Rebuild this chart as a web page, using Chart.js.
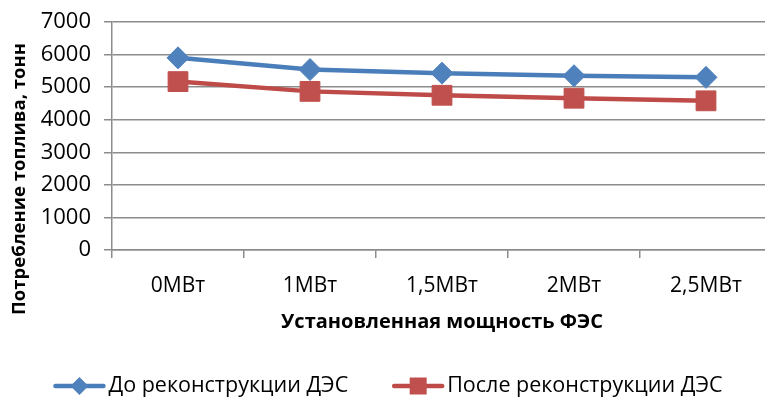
<!DOCTYPE html>
<html>
<head>
<meta charset="utf-8">
<script src="https://cdn.jsdelivr.net/npm/chart.js@4.4.1/dist/chart.umd.min.js"></script>
<style>
    html, body { margin: 0; padding: 0; background: #fff; overflow: hidden; }
    #wrap { width: 772px; height: 398px; }
</style>
</head>
<body>
<div id="wrap"><canvas id="fuelChart" width="772" height="398"></canvas></div>
<script>
const categories = ['0МВт', '1МВт', '1,5МВт', '2МВт', '2,5МВт'];
const beforeValues = [5900, 5540, 5430, 5350, 5300];
const afterValues = [5170, 4870, 4750, 4660, 4580];
const seriesNames = ['До реконструкции ДЭС', 'После реконструкции ДЭС'];

const BLUE = '#4a7ebb';
const RED = '#be4b48';
const GRID = '#8c8c8c';
const FONT = '"Open Sans", "DejaVu Sans", sans-serif';

// rotated y axis title, centred lower than the axis itself
const yTitlePlugin = {
    id: 'yTitle',
    afterDraw(chart) {
        const ctx = chart.ctx;
        ctx.save();
        ctx.translate(20, 179);
        ctx.rotate(-Math.PI / 2);
        ctx.font = 'bold 18.5px ' + FONT;
        ctx.fillStyle = '#000';
        ctx.textAlign = 'center';
        ctx.textBaseline = 'middle';
        ctx.fillText('Потребление топлива, тонн', 0, 0);
        ctx.restore();
    }
};

// bottom legend: line with marker, then the series name
const legendPlugin = {
    id: 'lineLegend',
    afterDraw(chart) {
        const ctx = chart.ctx;
        const cy = 386;
        const iconW = 52, iconGap = 3, itemGap = 44;
        ctx.save();
        ctx.font = '21.5px ' + FONT;
        const items = chart.data.datasets.map(function (ds) {
            return { ds: ds, textW: ctx.measureText(ds.label).width };
        });
        let total = 0;
        items.forEach(function (it, i) {
            total += iconW + iconGap + it.textW + (i ? itemGap : 0);
        });
        let x = chart.width / 2 - total / 2 + 2;
        items.forEach(function (it) {
            const ds = it.ds;
            ctx.strokeStyle = ds.borderColor;
            ctx.lineWidth = 4.5;
            ctx.lineCap = 'round';
            ctx.beginPath();
            ctx.moveTo(x + 2, cy);
            ctx.lineTo(x + iconW - 2, cy);
            ctx.stroke();
            const mx = x + iconW / 2;
            ctx.fillStyle = ds.pointBackgroundColor;
            ctx.beginPath();
            if (ds.pointStyle === 'rectRot') {
                ctx.moveTo(mx, cy - 9);
                ctx.lineTo(mx + 9, cy);
                ctx.lineTo(mx, cy + 9);
                ctx.lineTo(mx - 9, cy);
                ctx.closePath();
            } else {
                ctx.rect(mx - 8.5, cy - 8.5, 17, 17);
            }
            ctx.fill();
            ctx.fillStyle = '#000';
            ctx.textAlign = 'left';
            ctx.textBaseline = 'middle';
            ctx.fillText(ds.label, x + iconW + iconGap, cy);
            x += iconW + iconGap + it.textW + itemGap;
        });
        ctx.restore();
    }
};

const ctx = document.getElementById('fuelChart').getContext('2d');

new Chart(ctx, {
    type: 'line',
    data: {
        labels: categories,
        datasets: [{
            label: seriesNames[0],
            data: beforeValues,
            borderColor: BLUE,
            backgroundColor: BLUE,
            borderWidth: 4.5,
            pointStyle: 'rectRot',
            pointRadius: 11,
            pointBackgroundColor: '#4f81bd',
            pointBorderColor: '#4f81bd',
            pointBorderWidth: 1,
            fill: false
        }, {
            label: seriesNames[1],
            data: afterValues,
            borderColor: RED,
            backgroundColor: RED,
            borderWidth: 4.5,
            pointStyle: 'rect',
            pointRadius: 14,
            pointBackgroundColor: '#c0504d',
            pointBorderColor: '#c0504d',
            pointBorderWidth: 1,
            fill: false
        }]
    },
    options: {
        responsive: false,
        animation: false,
        layout: {
            autoPadding: false,
            padding: { top: 22, right: 0, bottom: 0, left: 0 }
        },
        plugins: {
            tooltip: { enabled: false },
            legend: { display: false }
        },
        scales: {
            x: {
                offset: true,
                afterFit: function (scale) { scale.height = 148; },
                grid: {
                    offset: true,
                    drawOnChartArea: false,
                    color: GRID,
                    lineWidth: 1.5,
                    tickLength: 8
                },
                border: { color: GRID, width: 1.5 },
                ticks: {
                    color: '#000',
                    padding: 15,
                    maxRotation: 0,
                    font: { family: FONT, size: 21 }
                },
                title: {
                    display: true,
                    text: 'Установленная мощность ФЭС',
                    color: '#000',
                    font: { family: FONT, size: 20, weight: 'bold' },
                    padding: { top: 0, bottom: 64 }
                }
            },
            y: {
                min: 0,
                max: 7000,
                afterFit: function (scale) {
                    scale.width = 112;
                    scale.paddingTop = 0;
                    scale.paddingBottom = 0;
                },
                grid: {
                    color: GRID,
                    lineWidth: 1.5,
                    tickLength: 8
                },
                border: { color: GRID, width: 1.5 },
                ticks: {
                    stepSize: 1000,
                    color: '#000',
                    padding: 13,
                    font: { family: FONT, size: 22 },
                    callback: function (value) { return String(value); }
                }
            }
        }
    },
    plugins: [yTitlePlugin, legendPlugin]
});
</script>
</body>
</html>
